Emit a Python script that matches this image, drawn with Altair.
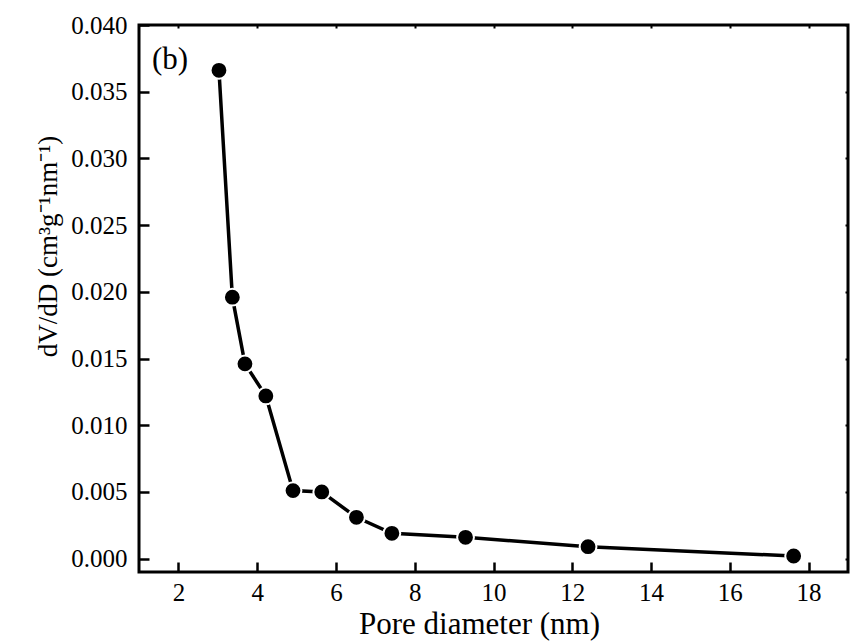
import altair as alt
import pandas as pd

pore_diameter = [3.03, 3.37, 3.69, 4.22, 4.91, 5.64, 6.52, 7.42, 9.29, 12.40, 17.62]
dvdd = [0.0366, 0.0196, 0.0146, 0.0122, 0.0051, 0.0050, 0.0031, 0.0019, 0.0016, 0.0009, 0.0002]
x_ticks = [2, 4, 6, 8, 10, 12, 14, 16, 18]
y_ticks = [0.000, 0.005, 0.010, 0.015, 0.020, 0.025, 0.030, 0.035, 0.040]
panel_label = ["(b)"]

df = pd.DataFrame({"d": pore_diameter, "v": dvdd})
FONT = "Liberation Serif"
W, H = 709, 547

xs = alt.Scale(domain=[1, 19], nice=False, zero=False)
ys = alt.Scale(domain=[-0.001, 0.040], nice=False, zero=False)

x_main = alt.X(
    "d:Q", scale=xs,
    axis=alt.Axis(
        orient="bottom", values=x_ticks, format="d", title="Pore diameter (nm)",
        offset=-10, domain=False, grid=False, tickSize=10, tickWidth=2.5,
        labelFont=FONT, labelFontSize=25, labelColor="black",
        labelPadding=8, titleX=340, titleY=71, titleAlign="center",
        titleBaseline="alphabetic", titleFontSize=31, titleFont=FONT,
    ),
)
y_main = alt.Y(
    "v:Q", scale=ys,
    axis=alt.Axis(
        orient="left", values=y_ticks, format=".3f",
        title="dV/dD (cm³g⁻¹nm⁻¹)",
        offset=-10, domain=False, grid=False, tickSize=10, tickWidth=2.5,
        labelFont=FONT, labelFontSize=25, labelColor="black",
        labelPadding=12, titleX=-93, titleY=221, titleAlign="center",
        titleBaseline="alphabetic", titleFontSize=27, titleFont=FONT,
    ),
)

base = alt.Chart(df)

line = base.mark_line(color="black", strokeWidth=3.5).encode(x=x_main, y=y_main)

points = base.mark_circle(
    size=283, color="black", opacity=1, stroke="white", strokeWidth=2
).encode(
    x=alt.X("d:Q", scale=xs, axis=None),
    y=alt.Y("v:Q", scale=ys, axis=None),
)

label = alt.Chart(pd.DataFrame({"t": panel_label})).mark_text(
    font=FONT, fontSize=31, align="left", baseline="alphabetic", color="black"
).encode(x=alt.value(13), y=alt.value(44), text="t:N")

mirror = base.mark_point(opacity=0).encode(
    x=alt.X("d:Q", scale=xs, axis=alt.Axis(
        orient="top", values=x_ticks, labels=False, title=None, domain=False,
        grid=False, tickSize=3, tickWidth=2, offset=-3)),
    y=alt.Y("v:Q", scale=ys, axis=alt.Axis(
        orient="right", values=y_ticks, labels=False, title=None, domain=False,
        grid=False, tickSize=3, tickWidth=2, offset=-3)),
)

chart = alt.layer(line, points, label, mirror).resolve_axis(
    x="independent", y="independent"
).properties(
    width=W, height=H,
    autosize=alt.AutoSizeParams(type="none"),
    padding={"left": 139, "top": 25, "right": 2, "bottom": 72},
    background="white",
).configure_view(
    stroke="black", strokeWidth=3
).configure_axis(
    labelFont=FONT, titleFont=FONT, titleFontWeight="normal",
    labelColor="black", titleColor="black", tickColor="black",
)

chart.save("out.html", embed_options={"renderer": "svg", "actions": False})
